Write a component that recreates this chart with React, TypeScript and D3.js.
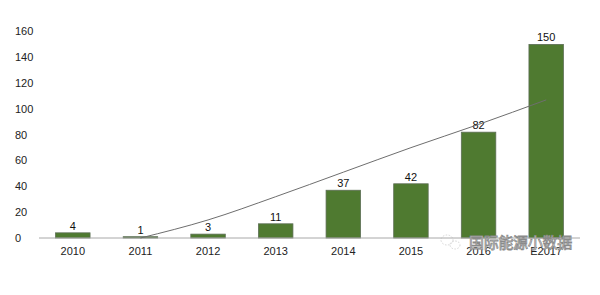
import React from "react";
import * as d3 from "d3";

const categories = ["2010", "2011", "2012", "2013", "2014", "2015", "2016", "E2017"];
const values = [4, 1, 3, 11, 37, 42, 82, 150];
const trendValues: (number | null)[] = [null, 0, 14, 32, 51, 70, 88, 107];
const yTicks = [0, 20, 40, 60, 80, 100, 120, 140, 160];
const watermark = "国际能源小数据";

const W = 600;
const H = 295;

export default function App() {
  const x = d3.scaleBand<string>().domain(categories).range([39, 580]).paddingInner(0.49).paddingOuter(0.245);
  const y = d3.scaleLinear().domain([0, 160]).range([238, 31.5]);

  const trendPts = categories
    .map((c, i) => ({ c, v: trendValues[i] }))
    .filter((d) => d.v !== null) as { c: string; v: number }[];
  const line = d3
    .line<{ c: string; v: number }>()
    .x((d) => (x(d.c) as number) + x.bandwidth() / 2)
    .y((d) => y(d.v))
    .curve(d3.curveMonotoneX);

  const font = "'Liberation Sans', Arial, sans-serif";

  return (
    <svg width={W} height={H} style={{ position: "absolute", left: 0, top: 0, background: "#fff" }}>
      <rect x={0} y={0} width={W} height={H} fill="#fff" />
      {yTicks.map((t) => (
        <text key={t} x={15} y={y(t)} dy="0.35em" fontSize={11} fontFamily={font} fill="#222">
          {t}
        </text>
      ))}
      {categories.map((c, i) => (
        <g key={c}>
          <rect
            x={x(c)}
            y={y(values[i])}
            width={x.bandwidth()}
            height={y(0) - y(values[i])}
            fill="#4f7a30"
            stroke="#5d6e55"
            strokeWidth={0.8}
          />
          <text
            x={(x(c) as number) + x.bandwidth() / 2}
            y={y(values[i]) - 3}
            textAnchor="middle"
            fontSize={11}
            fontFamily={font}
            fill="#111"
          >
            {values[i]}
          </text>
          <text
            x={(x(c) as number) + x.bandwidth() / 2}
            y={255}
            textAnchor="middle"
            fontSize={11}
            fontFamily={font}
            fill="#222"
          >
            {c}
          </text>
        </g>
      ))}
      <line x1={39} x2={580} y1={y(0)} y2={y(0)} stroke="#a8a8a8" strokeWidth={1} />
      <path d={line(trendPts) || ""} fill="none" stroke="#6e6e6e" strokeWidth={1} />
      <g opacity={0.6}>
        <ellipse cx={447} cy={240} rx={6} ry={5} fill="none" stroke="#bbb" strokeDasharray="1.5,1.5" />
        <ellipse cx={455} cy={245} rx={5} ry={4} fill="none" stroke="#bbb" strokeDasharray="1.5,1.5" />
      </g>
      <text
        x={469}
        y={248}
        fontSize={15}
        fontFamily="'Noto Sans CJK SC', sans-serif"
        fill="#fff"
        stroke="#8a8a8a"
        strokeWidth={0.8}
        letterSpacing={-0.3}
      >
        {watermark}
      </text>
    </svg>
  );
}
